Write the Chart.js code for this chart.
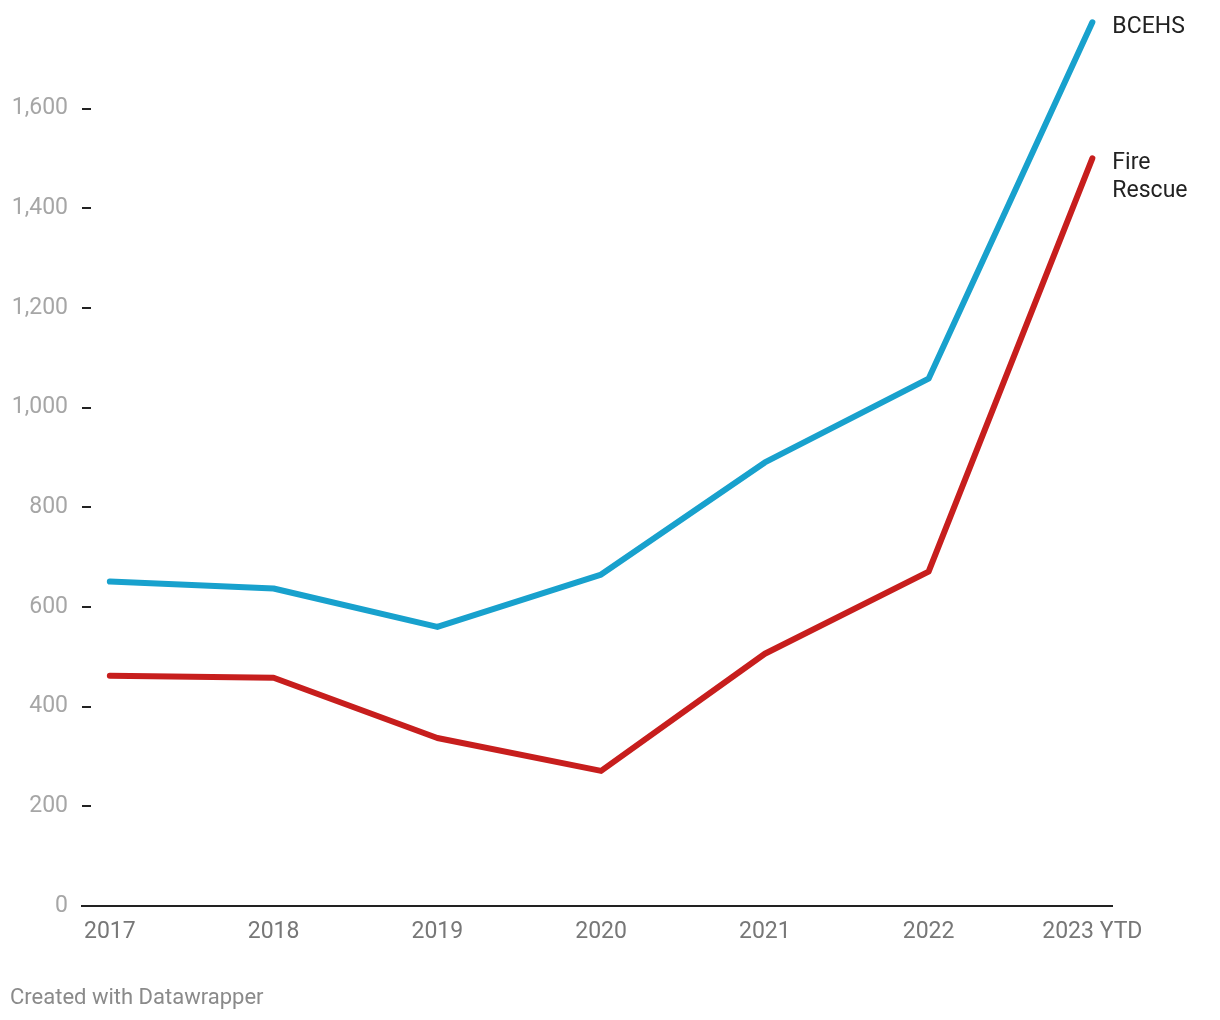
<!DOCTYPE html>
<html>
<head>
<meta charset="utf-8">
<script src="https://cdn.jsdelivr.net/npm/chart.js@4"></script>
<style>
  body { margin: 0; background: #fff; }
  #wrap { position: relative; width: 1220px; height: 1020px; }
  #credit { position: absolute; left: 10px; top: 984px; font: 22px Roboto, sans-serif; color: #8a8a8a; }
</style>
</head>
<body>
<div id="wrap">
  <canvas id="chart" width="1220" height="1020"></canvas>
  <div id="credit">Created with Datawrapper</div>
</div>
<script>
const years = ['2017', '2018', '2019', '2020', '2021', '2022', '2023 YTD'];
const bcehs = [651, 637, 560, 665, 890, 1058, 1773];
const fireRescue = [462, 458, 337, 271, 506, 671, 1500];
const yTicks = [0, 200, 400, 600, 800, 1000, 1200, 1400, 1600];

// line labels at the right end + little dashes next to the y labels
const extras = {
  id: 'extras',
  afterDatasetsDraw(chart) {
    const ctx = chart.ctx;
    const area = chart.chartArea;
    const y = chart.scales.y;
    ctx.save();
    ctx.strokeStyle = '#222';
    ctx.lineWidth = 2;
    yTicks.slice(1).forEach(t => {
      const py = Math.round(y.getPixelForValue(t));
      ctx.beginPath();
      ctx.moveTo(area.left, py);
      ctx.lineTo(area.left + 9, py);
      ctx.stroke();
    });
    ctx.fillStyle = '#222';
    ctx.font = '23px Roboto, sans-serif';
    ctx.textBaseline = 'middle';
    const x = chart.scales.x.getPixelForValue(years.length - 1) + 20;
    ctx.fillText('BCEHS', x, y.getPixelForValue(bcehs[bcehs.length - 1]) + 5);
    const fy = y.getPixelForValue(fireRescue[fireRescue.length - 1]);
    ctx.fillText('Fire', x, fy + 5);
    ctx.fillText('Rescue', x, fy + 33);
    ctx.restore();
  }
};

new Chart(document.getElementById('chart'), {
  type: 'line',
  data: {
    datasets: [
      {
        label: 'BCEHS',
        data: bcehs.map((v, i) => ({ x: i, y: v })),
        borderColor: '#18a1cd',
        borderWidth: 6
      },
      {
        label: 'Fire Rescue',
        data: fireRescue.map((v, i) => ({ x: i, y: v })),
        borderColor: '#c71e1d',
        borderWidth: 6
      }
    ]
  },
  options: {
    responsive: false,
    animation: false,
    clip: false,
    elements: {
      point: { radius: 0 },
      line: { tension: 0, borderCapStyle: 'round', borderJoinStyle: 'round' }
    },
    layout: { padding: { left: 10, right: 108, top: 0, bottom: 64 } },
    plugins: { legend: { display: false }, tooltip: { enabled: false } },
    scales: {
      x: {
        type: 'linear',
        min: -0.17,
        max: 6.12,
        afterBuildTicks: axis => { axis.ticks = years.map((_, i) => ({ value: i })); },
        afterFit: axis => { axis.height = 50; },
        grid: { display: false, drawTicks: false },
        border: { display: true, color: '#222', width: 2 },
        ticks: {
          padding: 12,
          color: '#777',
          font: { family: 'Roboto', size: 23 },
          maxRotation: 0,
          autoSkip: false,
          callback: v => years[v]
        }
      },
      y: {
        min: 0,
        max: 1762,
        afterBuildTicks: axis => { axis.ticks = yTicks.map(v => ({ value: v })); },
        afterFit: axis => { axis.width = 72; },
        grid: { display: false, drawTicks: false },
        border: { display: false },
        ticks: {
          padding: 14,
          color: '#a6a6a6',
          font: { family: 'Roboto', size: 23 },
          callback: v => v.toLocaleString('en-US')
        }
      }
    }
  },
  plugins: [extras]
});
</script>
</body>
</html>
